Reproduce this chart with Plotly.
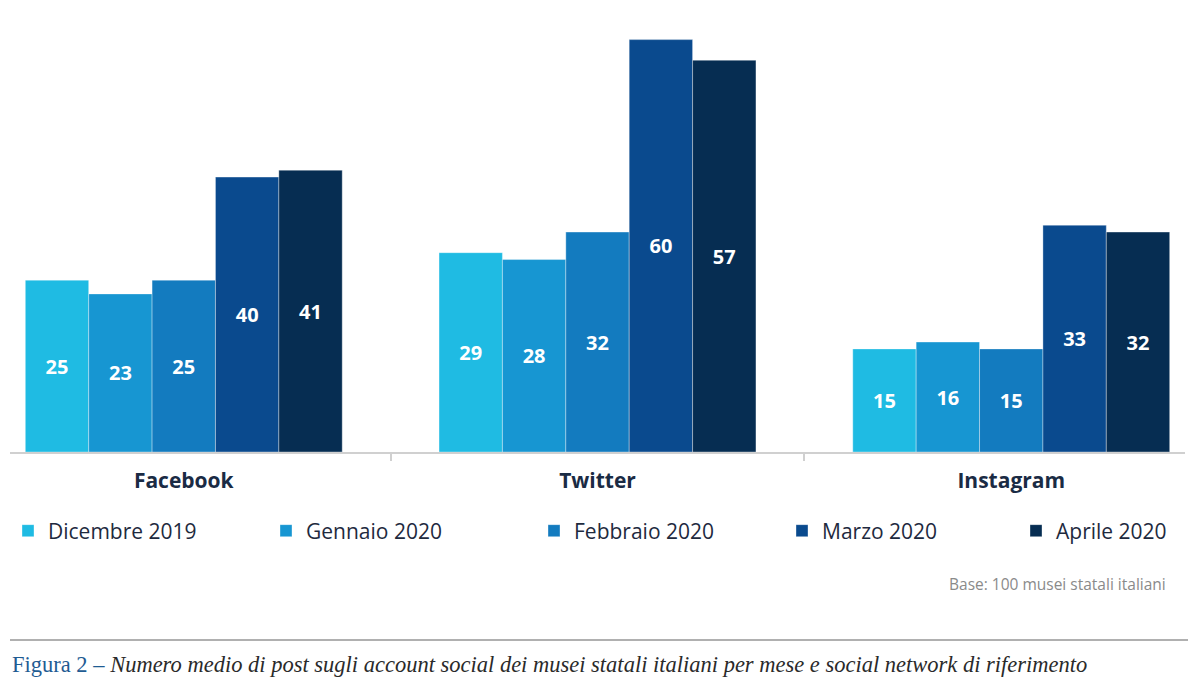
import plotly.graph_objects as go

categories = ["Facebook", "Twitter", "Instagram"]
months = ["Dicembre 2019", "Gennaio 2020", "Febbraio 2020", "Marzo 2020", "Aprile 2020"]
dicembre = [25, 29, 15]
gennaio = [23, 28, 16]
febbraio = [25, 32, 15]
marzo = [40, 60, 33]
aprile = [41, 57, 32]
series = [dicembre, gennaio, febbraio, marzo, aprile]
colors = ["#1fbbe3", "#1796d2", "#137bbf", "#0a4a8e", "#062d52"]
legend_px = [16, 287, 555, 803, 1037]

# page offset (body margin of the html page)
OFF = 8
W, H = 1200 - OFF, 686 - OFF
# plot area in reference page pixels
PL, PR, PT, PB = 10, 1185, 19, 452
L, R, T, B = PL - OFF, W - (PR - OFF), PT - OFF, H - (PB - OFF)
PW = PR - PL
PH = PB - PT


def px_x(x):
    return (x - PL) / PW


def px_y(y):
    return (PB - y) / PH


fig = go.Figure()
xs = list(range(len(categories)))
for i, (name, vals, col) in enumerate(zip(months, series, colors)):
    fig.add_trace(go.Bar(
        x=xs, y=vals, name=name,
        marker=dict(color=col, line=dict(color="rgba(255,255,255,0.35)", width=1)),
        text=[str(v) for v in vals],
        textposition="inside", insidetextanchor="middle",
        textfont=dict(family="Open Sans", size=20, color="white", weight="bold"),
        legend="legend" if i == 0 else f"legend{i+1}",
    ))

layout_legends = {}
for i, xp in enumerate(legend_px):
    key = "legend" if i == 0 else f"legend{i+1}"
    layout_legends[key] = dict(
        x=max(0, (xp - 21 - OFF)) / W, y=1 - (531 - OFF) / H, xref="container", yref="container",
        xanchor="left", yanchor="middle", orientation="h",
        font=dict(family="Open Sans", size=21, color="#1e2a3e"),
        bgcolor="rgba(0,0,0,0)", itemwidth=30,
    )

fig.update_layout(
    width=W, height=H,
    margin=dict(l=L, r=R, t=T, b=B),
    paper_bgcolor="white", plot_bgcolor="white",
    barmode="group", bargap=0.234, bargroupgap=0,
    showlegend=True,
    xaxis=dict(
        range=[-0.42, 2.42], tickvals=xs, ticktext=categories,
        showline=True, linecolor="#d0d0d0", linewidth=2,
        ticks="outside", ticklen=9, tickcolor="rgba(0,0,0,0)",
        tickfont=dict(family="Open Sans", size=21, color="#1a2b44", weight="bold"),
        showgrid=False, zeroline=False,
        minor=dict(tickvals=[0.5, 1.5], ticks="outside", ticklen=7, tickcolor="#d0d0d0", tickwidth=1.5, showgrid=False),
    ),
    yaxis=dict(range=[0, 63], visible=False, showgrid=False, zeroline=False),
    **layout_legends,
)

fig.add_annotation(
    x=px_x(1168), y=px_y(584), xref="paper", yref="paper",
    xanchor="right", yanchor="middle", showarrow=False,
    text="Base: 100 musei statali italiani",
    font=dict(family="Open Sans", size=15.5, color="#8a8a8a"),
)

fig.add_shape(
    type="line", xref="paper", yref="paper",
    x0=px_x(10), x1=px_x(1188), y0=px_y(640), y1=px_y(640),
    line=dict(color="#b0b0b0", width=2),
)

fig.add_annotation(
    x=px_x(10), y=px_y(664), xref="paper", yref="paper",
    xanchor="left", yanchor="middle", showarrow=False,
    text="<span style='color:#1f5c93'>Figura 2 – </span><i>Numero medio di post sugli account social dei musei statali italiani per mese e social network di riferimento</i>",
    font=dict(family="Liberation Serif", size=22.5, color="#2a2a2a"),
)

fig.write_html("out.html")
